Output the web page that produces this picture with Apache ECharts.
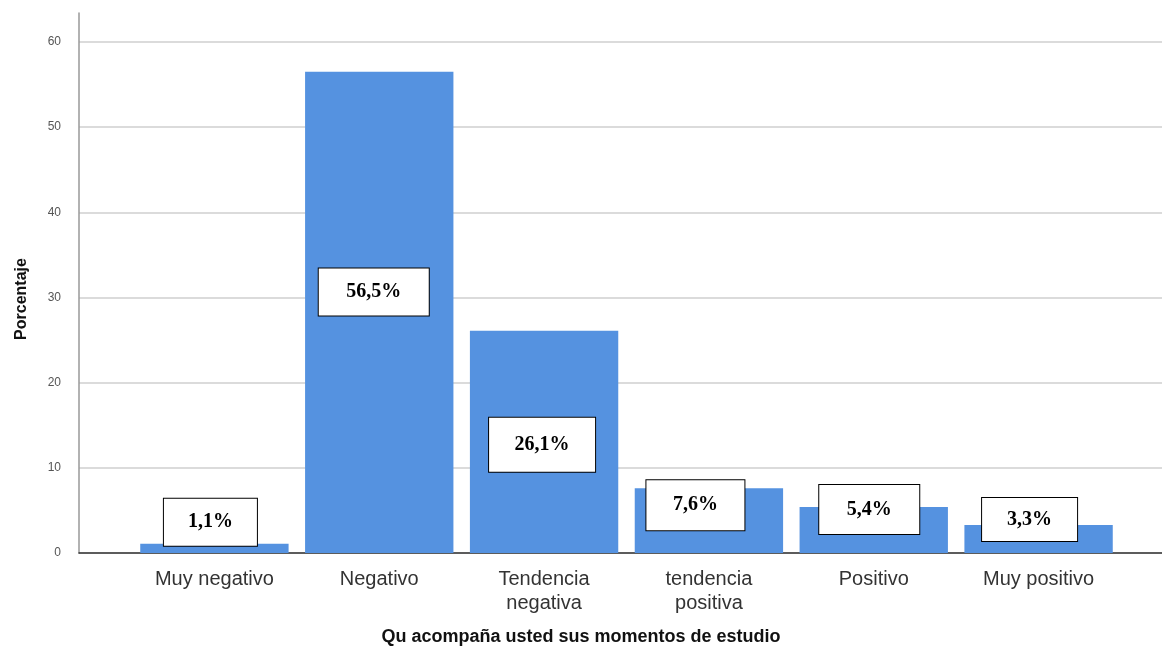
<!DOCTYPE html>
<html>
<head>
<meta charset="utf-8">
<script src="https://cdn.jsdelivr.net/npm/echarts@6/dist/echarts.min.js"></script>
<style>html,body{margin:0;padding:0;background:#fff;}#c{width:1162px;height:654px;}</style>
</head>
<body>
<div id="c"></div>
<script>
const categories = ['Muy negativo', 'Negativo', 'Tendencia\nnegativa', 'tendencia\npositiva', 'Positivo', 'Muy positivo'];
const percentages = [1.1, 56.5, 26.1, 7.6, 5.4, 3.3];
const yTickStep = 10;
const xTitle = 'Qu acompaña usted sus momentos de estudio';
const yTitle = 'Porcentaje';

// label box layout (style only)
const labelOffsets = [[-4, -26], [-5.5, -20.5], [-2, 3], [-13.5, -15.5], [-4.5, -20.5], [-9, -19.5]];
const labelPads = [[13.5, 24], [13.5, 27.5], [17, 25.5], [15, 26.5], [14.5, 27.5], [11.5, 25]];

const YMAX = 63.4;
const chart = echarts.init(document.getElementById('c'));
chart.setOption({
  animation: false,
  backgroundColor: '#fff',
  title: {
    text: xTitle, left: 'center', top: 623,
    textStyle: { fontFamily: 'Arial, Liberation Sans', fontSize: 18, fontWeight: 'bold', color: '#111' }
  },
  graphic: [{
    type: 'text', x: 22, y: 299, rotation: Math.PI / 2,
    style: { text: yTitle, fontFamily: 'Arial, Liberation Sans', fontSize: 16, fontWeight: 'bold', fill: '#111',
      align: 'center', verticalAlign: 'middle' }
  }],
  grid: [
    { left: 79, right: 0, top: 13, bottom: 101 },
    { left: 132, right: 41, top: 13, bottom: 101 }
  ],
  xAxis: [
    { type: 'value', gridIndex: 0, min: 0, max: 1,
      axisLine: { show: true, lineStyle: { color: '#333', width: 1.5 } },
      axisTick: { show: false }, axisLabel: { show: false }, splitLine: { show: false } },
    { type: 'category', gridIndex: 1, data: categories,
      axisLine: { show: false }, axisTick: { show: false },
      axisLabel: { interval: 0, margin: 14, color: '#333', fontFamily: 'Arial, Liberation Sans', fontSize: 20, lineHeight: 24 } }
  ],
  yAxis: [
    { type: 'value', gridIndex: 0, min: 0, max: YMAX, interval: yTickStep,
      axisLine: { show: true, lineStyle: { color: '#999', width: 1.5 } },
      axisTick: { show: false },
      axisLabel: { margin: 18, color: '#555', fontSize: 12, fontFamily: 'Arial, Liberation Sans',
        formatter: v => (Math.abs(v % yTickStep) < 1e-9 ? String(v) : '') },
      splitLine: { show: true, showMaxLine: false, lineStyle: { color: '#cfcfcf', width: 1.5 } } },
    { type: 'value', gridIndex: 1, min: 0, max: YMAX, show: false, splitLine: { show: false } }
  ],
  series: [{
    type: 'bar', xAxisIndex: 1, yAxisIndex: 1,
    barCategoryGap: '10%',
    itemStyle: { color: '#5592E0' },
    data: percentages.map((v, i) => ({
      value: v,
      label: {
        show: true, position: 'inside', offset: labelOffsets[i],
        formatter: p => String(p.value).replace('.', ',') + '%',
        fontFamily: 'Liberation Serif, Times New Roman, serif', fontWeight: 'bold', fontSize: 20, lineHeight: 20,
        color: '#000', backgroundColor: '#fff', borderColor: '#000', borderWidth: 1,
        padding: labelPads[i]
      }
    }))
  }]
});
</script>
</body>
</html>
